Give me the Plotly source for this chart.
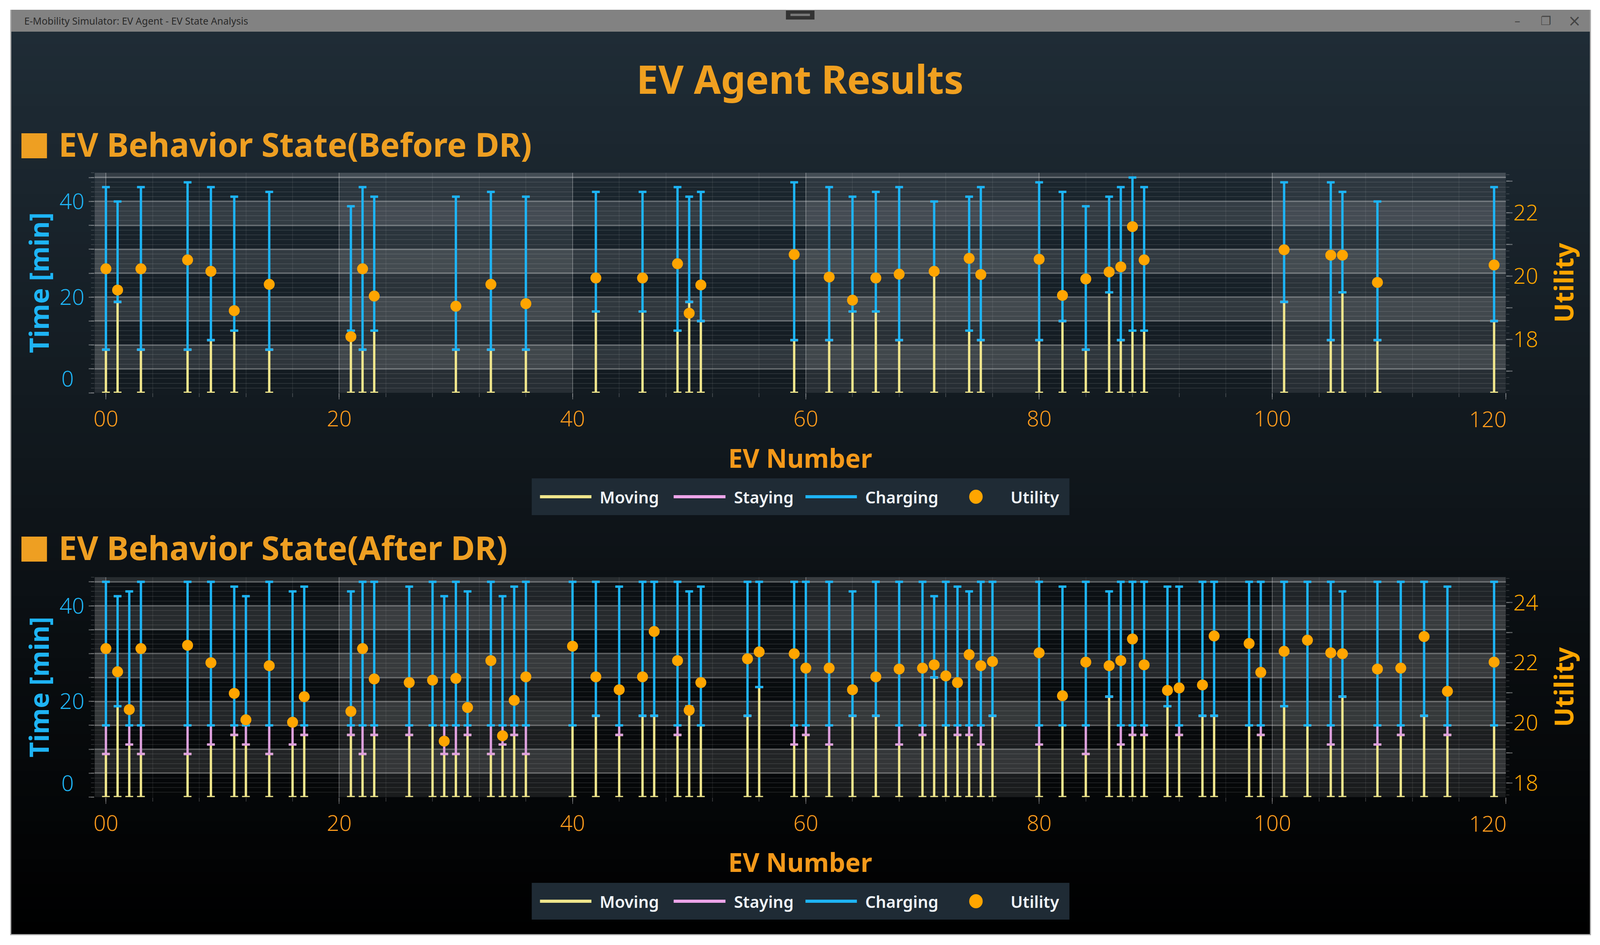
import plotly.graph_objects as go

WIDTH = 4259
HEIGHT = 2418

TITLE = 'EV Agent Results'
SERIES = ['Moving', 'Staying', 'Charging', 'Utility']

# before DR
ev_before = [0, 1, 3, 7, 9, 11, 14, 21, 22, 23, 30, 33, 36, 42, 46, 49, 50, 51, 59, 62, 64, 66, 68, 71,
             74, 75, 80, 82, 84, 86, 87, 88, 89, 101, 105, 106, 109, 119]
moving_before = [9, 19, 9, 9, 11, 13, 9, 13, 9, 13, 9, 9, 9, 17, 17, 13, 19, 15, 11, 11, 17, 17, 11, 25,
                 13, 11, 11, 15, 9, 21, 11, 13, 13, 19, 11, 21, 11, 15]
staying_before = [9, 19, 9, 9, 11, 13, 9, 13, 9, 13, 9, 9, 9, 17, 17, 13, 19, 15, 11, 11, 17, 17, 11, 25,
                  13, 11, 11, 15, 9, 21, 11, 13, 13, 19, 11, 21, 11, 15]
charging_before = [43, 40, 43, 44, 43, 41, 42, 39, 43, 41, 41, 42, 41, 42, 42, 43, 41, 42, 44, 43, 41, 42, 43, 40,
                   41, 43, 44, 42, 39, 41, 43, 45, 43, 44, 44, 42, 40, 43]
utility_before = [20.23, 19.56, 20.23, 20.51, 20.15, 18.91, 19.74, 18.09, 20.23, 19.37, 19.05, 19.74, 19.13,
                  19.94, 19.94, 20.39, 18.83, 19.72, 20.68, 19.97, 19.24, 19.94, 20.06, 20.15,
                  20.56, 20.05, 20.53, 19.39, 19.91, 20.13, 20.29, 21.56, 20.51, 20.83, 20.66, 20.66, 19.8, 20.35]

# after DR
ev_after = [0, 1, 2, 3, 7, 9, 11, 12, 14, 16, 17, 21, 22, 23, 26, 28, 29, 30, 31, 33, 34, 35, 36, 40,
            42, 44, 46, 47, 49, 50, 51, 55, 56, 59, 60, 62, 64, 66, 68, 70, 71, 72, 73, 74, 75, 76,
            80, 82, 84, 86, 87, 88, 89, 91, 92, 94, 95, 98, 99, 101, 103, 105, 106, 109, 111, 113, 115, 119]
moving_after = [9, 19, 11, 9, 9, 11, 13, 11, 9, 11, 13, 13, 9, 13, 13, 15, 9, 9, 13, 9, 11, 13, 9, 15,
                17, 13, 17, 17, 13, 19, 15, 17, 23, 11, 13, 11, 17, 17, 11, 13, 25, 15, 13, 13, 11, 17,
                11, 15, 9, 21, 11, 13, 13, 19, 13, 17, 17, 15, 13, 19, 15, 11, 21, 11, 13, 17, 13, 15]
staying_after = [15, 19, 15, 15, 15, 15, 15, 15, 15, 15, 15, 15, 15, 15, 15, 15, 15, 15, 15, 15, 15, 15, 15, 15,
                 17, 15, 17, 17, 15, 19, 15, 17, 23, 15, 15, 15, 17, 17, 15, 15, 25, 15, 15, 15, 15, 17,
                 15, 15, 15, 21, 15, 15, 15, 19, 15, 17, 17, 15, 15, 19, 15, 15, 21, 15, 15, 17, 15, 15]
charging_after = [45, 42, 43, 45, 45, 45, 44, 42, 45, 43, 44, 43, 45, 45, 44, 45, 42, 45, 43, 45, 42, 44, 45, 45,
                  45, 44, 45, 45, 45, 43, 44, 45, 45, 45, 45, 45, 43, 45, 45, 45, 42, 45, 44, 43, 45, 45,
                  45, 44, 45, 43, 45, 45, 45, 44, 44, 45, 45, 45, 45, 45, 45, 45, 43, 45, 45, 45, 44, 45]
utility_after = [22.47, 21.7, 20.44, 22.47, 22.58, 22.0, 20.98, 20.1, 21.9, 20.02, 20.87, 20.38, 22.47, 21.46,
                 21.34, 21.42, 19.39, 21.48, 20.51, 22.07, 19.57, 20.75, 21.53, 22.55,
                 21.53, 21.1, 21.53, 23.04, 22.07, 20.42, 21.34, 22.13, 22.36, 22.3, 21.82, 21.82, 21.1, 21.53,
                 21.79, 21.82, 21.93, 21.56, 21.34, 22.27, 21.9, 22.04,
                 22.33, 20.9, 22.02, 21.9, 22.07, 22.79, 21.93, 21.08, 21.16, 21.26, 22.89, 22.64, 21.68,
                 22.38, 22.75, 22.33, 22.3, 21.79, 21.82, 22.87, 21.05, 22.02]

x_ticks = [0, 20, 40, 60, 80, 100, 120]
x_labels = ['00', '20', '40', '60', '80', '100', '']
time_ticks = [0, 5, 10, 15, 20, 25, 30, 35, 40, 45]
time_labels = ['', '', '', '', '20', '', '', '', '40', '']
utility_ticks_before = [17, 18, 19, 20, 21, 22, 23]
utility_labels_before = ['', '18', '', '20', '', '22', '']
utility_ticks_after = [18, 19, 20, 21, 22, 23, 24]
utility_labels_after = ['18', '', '20', '', '22', '', '24']

FONT = 'Noto Sans'
YELLOW = '#f0e68c'
PINK = '#dda0dd'
BLUE = '#1eb4f5'
ORANGE = '#ffa500'
HEAD = '#ee9f22'
GRID = 'rgba(255,255,255,0.24)'
MINOR = 'rgba(255,255,255,0.10)'

X_RANGE = [-0.966, 120]
Y_RANGE = [0, 46]


def px(x):
    return x / WIDTH


def py(y):
    return 1 - y / HEIGHT


def rect(x0, y0, x1, y1, color):
    return dict(type='rect', xref='paper', yref='paper', x0=px(x0), x1=px(x1), y0=py(y0), y1=py(y1),
                fillcolor=color, line_width=0, layer='below')


def label(text, x, y, size, color, xanchor='center', weight='normal', family=FONT, angle=0):
    return dict(text=text, xref='paper', yref='paper', x=px(x), y=py(y), xanchor=xanchor, yanchor='middle',
                showarrow=False, textangle=angle,
                font=dict(family=family, size=size, color=color, weight=weight))


def stack_trace(ev, base, top, color, xa, ya, name):
    return go.Scatter(x=ev, y=base, name=name, mode='markers', xaxis=xa, yaxis=ya, showlegend=False,
                      marker=dict(size=1, color='rgba(0,0,0,0)'),
                      error_y=dict(type='data', symmetric=False,
                                   array=[t - b for t, b in zip(top, base)],
                                   arrayminus=[0] * len(base),
                                   color=color, thickness=6, width=10))


fig = go.Figure()
shapes = []
notes = []

# window background, darker towards the bottom
strips = 72
win_top, win_bottom = 80, 2391
for i in range(strips):
    f = 1 - i / (strips - 1)
    y0 = win_top + (win_bottom - win_top) * i / strips
    y1 = win_top + (win_bottom - win_top) * (i + 1) / strips + 1
    shapes.append(rect(28, y0, 4232, min(y1, win_bottom),
                       f'rgb({round(31 * f)},{round(44 * f)},{round(54 * f)})'))

# title bar and window frame
shapes.append(rect(28, 25, 4232, 81, '#828282'))
shapes.append(rect(25, 25, 28, 2393, '#aaaaaa'))
shapes.append(rect(4232, 25, 4235, 2393, '#aaaaaa'))
shapes.append(rect(25, 2390, 4235, 2393, '#aaaaaa'))
shapes.append(rect(2091, 27, 2167, 50, '#333333'))
shapes.append(rect(2103, 35, 2155, 41, '#777777'))
notes.append(label('E-Mobility Simulator: EV Agent - EV State Analysis', 60, 53, 25, '#2a2a2a', 'left'))
notes.append(label('–', 4039, 53, 30, '#444444', family='DejaVu Sans'))
notes.append(label('❐', 4115, 53, 30, '#444444', family='DejaVu Sans'))
notes.append(label('×', 4191, 53, 40, '#444444', family='DejaVu Sans'))

panels = [
    dict(head='EV Behavior State(Before DR)', head_y=373, top=442, bottom=1005, legend_y=1271,
         xa='x', ya='y', ya2='y2', ev=ev_before, moving=moving_before, staying=staying_before,
         charging=charging_before, utility=utility_before, u_range=[16.32, 23.26],
         u_ticks=utility_ticks_before, u_labels=utility_labels_before),
    dict(head='EV Behavior State(After DR)', head_y=1405, top=1476.6, bottom=2039.5, legend_y=2306,
         xa='x2', ya='y3', ya2='y4', ev=ev_after, moving=moving_after, staying=staying_after,
         charging=charging_after, utility=utility_after, u_range=[17.53, 24.85],
         u_ticks=utility_ticks_after, u_labels=utility_labels_after),
]

axes = {}
for p in panels:
    ev = p['ev']
    base = [0] * len(ev)
    fig.add_trace(stack_trace(ev, base, p['moving'], YELLOW, p['xa'], p['ya'], SERIES[0]))
    fig.add_trace(stack_trace(ev, p['moving'], p['staying'], PINK, p['xa'], p['ya'], SERIES[1]))
    fig.add_trace(stack_trace(ev, p['staying'], p['charging'], BLUE, p['xa'], p['ya'], SERIES[2]))
    fig.add_trace(go.Scatter(x=ev, y=p['utility'], name=SERIES[3], mode='markers', showlegend=False,
                             xaxis=p['xa'], yaxis=p['ya2'], marker=dict(size=28, color=ORANGE)))

    ya_key = 'yaxis' + p['ya'][1:]
    ya2_key = 'yaxis' + p['ya2'][1:]
    xa_key = 'xaxis' + p['xa'][1:]
    y_dom = [py(p['bottom']), py(p['top'])]
    axes[xa_key] = dict(domain=[px(250), px(4008)], range=X_RANGE, anchor=p['ya'], tickmode='array',
                        tickvals=x_ticks, ticktext=x_labels, ticks='outside', ticklen=16, tickwidth=2,
                        tickcolor='rgba(255,255,255,0.35)', ticklabelstandoff=2,
                        tickfont=dict(family=FONT, size=56, color='#fb9a1c', weight=300),
                        showgrid=True, gridcolor='rgba(255,255,255,0.28)', gridwidth=2, zeroline=False,
                        showline=False,
                        title=dict(text='EV Number', standoff=44,
                                   font=dict(family=FONT, size=66, color='#f4991a', weight='bold')),
                        minor=dict(dtick=4, tick0=0, showgrid=True, gridcolor='rgba(255,255,255,0.07)',
                                   gridwidth=2, ticks='outside', ticklen=10, tickwidth=2,
                                   tickcolor='rgba(255,255,255,0.2)'))
    axes[ya_key] = dict(domain=y_dom, range=Y_RANGE, anchor=p['xa'], tickmode='array', tickvals=time_ticks,
                        ticktext=time_labels, ticks='outside', ticklen=14, tickwidth=3,
                        tickcolor='rgba(255,255,255,0.3)', ticklabelstandoff=0,
                        tickfont=dict(family=FONT, size=56, color=BLUE, weight=300),
                        showgrid=True, gridcolor=GRID, gridwidth=4, zeroline=False, showline=False,
                        title=dict(text='Time [min]', standoff=4,
                                   font=dict(family=FONT, size=68, color=BLUE, weight='bold')),
                        minor=dict(dtick=1, showgrid=True, gridcolor=MINOR, gridwidth=2, ticks='outside',
                                   ticklen=8, tickwidth=2, tickcolor='rgba(255,255,255,0.15)'))
    axes[ya2_key] = dict(domain=y_dom, range=p['u_range'], anchor=p['xa'], overlaying=p['ya'], side='right',
                         tickmode='array', tickvals=p['u_ticks'], ticktext=p['u_labels'], ticks='outside',
                         ticklen=16, tickwidth=3, tickcolor='rgba(255,255,255,0.3)', ticklabelstandoff=-9,
                         tickfont=dict(family=FONT, size=56, color=ORANGE, weight=300),
                         showgrid=False, zeroline=False, showline=False,
                         title=dict(text='Utility', standoff=44,
                                    font=dict(family=FONT, size=66, color=ORANGE, weight='bold')),
                         minor=dict(dtick=0.2, ticks='outside', ticklen=8, tickwidth=2,
                                    tickcolor='rgba(255,255,255,0.15)'))

    # shaded columns and rows of the plot area
    for a, b in [(X_RANGE[0], 0), (20, 40), (60, 80), (100, 120)]:
        shapes.append(dict(type='rect', xref=p['xa'], yref='paper', x0=a, x1=b, y0=y_dom[0], y1=y_dom[1],
                           fillcolor='rgba(255,255,255,0.085)', line_width=0, layer='below'))
    for a, b in [(5, 10), (15, 20), (25, 30), (35, 40), (45, 46)]:
        shapes.append(dict(type='rect', xref='paper', yref=p['ya'], x0=px(250), x1=px(4008), y0=a, y1=b,
                           fillcolor='rgba(255,255,255,0.115)', line_width=0, layer='below'))

    # labels pushed inside at the axis ends
    notes.append(label('120', 3960, p['bottom'] + 66, 56, '#fb9a1c', weight=300))
    notes.append(label('0', 178, p['bottom'] - 38, 56, BLUE, weight=300))

    # section heading
    shapes.append(rect(55, p['head_y'] - 32, 123, p['head_y'] + 32, HEAD))
    notes.append(label(p['head'], 152, p['head_y'] - 5, 84, HEAD, 'left', 'bold'))

    # legend
    ly = p['legend_y']
    shapes.append(rect(1414, ly - 47, 2846, ly + 47, '#1f2b35'))
    for name, color, x0, x1, tx in [(SERIES[0], YELLOW, 1436, 1573, 1593),
                                    (SERIES[1], '#eda5ea', 1792, 1930, 1951),
                                    (SERIES[2], BLUE, 2143, 2280, 2300)]:
        shapes.append(rect(x0, ly - 4, x1, ly + 4, color))
        notes.append(label(name, tx, ly, 42, '#f0f4f8', 'left', 600))
    shapes.append(dict(type='circle', xref='paper', yref='paper', x0=px(2579), x1=px(2615), y0=py(ly + 18),
                       y1=py(ly - 18), fillcolor=ORANGE, line_width=0, layer='below'))
    notes.append(label(SERIES[3], 2687, ly, 42, '#f0f4f8', 'left', 600))

fig.update_layout(width=WIDTH, height=HEIGHT, autosize=False, margin=dict(l=0, r=0, t=0, b=0, pad=0),
                  paper_bgcolor='white', plot_bgcolor='rgba(0,0,0,0)', showlegend=False,
                  font=dict(family=FONT),
                  title=dict(text=TITLE, x=0.5, xanchor='center', y=py(205), yanchor='middle',
                             font=dict(family=FONT, size=100, color='#f0a020', weight='bold')),
                  shapes=shapes, annotations=notes, **axes)

# the page may come up narrower than asked, so fit the figure to the window that is really there
fig.write_html('out.html', config={'displayModeBar': False},
               post_script="document.body.style.margin='0';"
                           "var gd=document.querySelector('.plotly-graph-div');"
                           "Plotly.relayout(gd,{width:window.innerWidth,height:window.innerHeight});")
